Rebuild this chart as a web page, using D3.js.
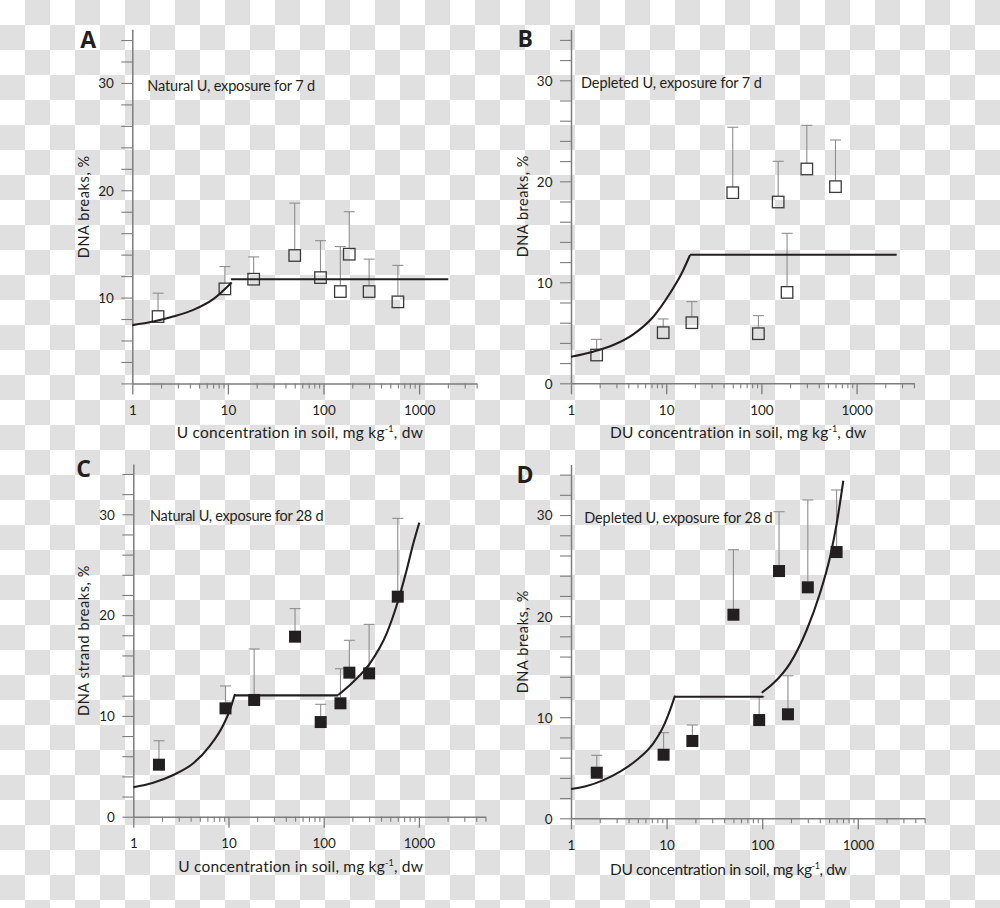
<!DOCTYPE html>
<html><head><meta charset="utf-8">
<script src="https://cdn.jsdelivr.net/npm/d3@7"></script>
<style>
html,body{margin:0;padding:0;background:#fff;}
svg{display:block;}
text{font-family:Lato,"Open Sans",sans-serif;fill:#231f20;}
</style></head><body>
<svg id="chart" width="1000" height="908"></svg>
<script>
// ---------------- DATA ----------------
const conc = [1.86, 9.3, 18.6, 50, 93, 150, 186, 300, 600];

const meanA  = [8.23, 10.81, 11.71, 13.92, 11.86, 10.56, 14.04, 10.56, 9.6];
const upperA = [10.41, 12.89, 13.79, 18.8, 15.3, 14.75, 18.0, 13.58, 13.0];

const meanB  = [2.8, 5.01, 6.0, 18.87, 4.91, 17.95, 9.0, 21.22, 19.47];
const upperB = [4.35, 6.37, 8.08, 25.35, 6.7, 21.98, 14.85, 25.54, 24.09];

const meanC  = [5.16, 10.75, 11.58, 17.86, 9.39, 11.25, 14.29, 14.22, 21.83];
const upperC = [7.54, 12.97, 16.64, 20.64, 11.15, 14.68, 17.5, 19.08, 29.6];

const meanD  = [4.51, 6.29, 7.65, 20.14, 9.72, 24.46, 10.29, 22.85, 26.34];
const upperD = [6.23, 8.47, 9.23, 26.57, 12.03, 30.33, 14.1, 31.49, 32.48];

// fitted model curves, [concentration, %]
const fitA_rise = [[1,7.43],[1.66,7.76],[2.68,8.23],[4.35,8.85],[7.03,9.85],[10.96,11.4]];
const fitA_flat = [[10.8,11.71],[2020,11.71]];

const fitB_rise = [[1,2.63],[1.71,3.13],[2.78,3.79],[4.51,4.85],[7.32,6.59],[10.96,8.91],[14.55,10.89],[17.8,12.7]];
const fitB_flat = [[17.8,12.73],[2637,12.73]];

const fitC_rise = [[1,2.92],[1.62,3.37],[2.63,4.14],[4.27,5.3],[6.4,7.05],[8.82,9.1],[10.4,10.65],[11.7,12.17]];
const fitC_flat = [[11.7,12.04],[142,12.04]];
const fitC_high = [[142,12.07],[205,13.39],[306,15.22],[459,18.19],[608,21.5],[745,24.5],[873,27.1],[1009,29.17]];

const fitD_rise = [[1,2.9],[1.46,3.19],[2.18,3.78],[3.26,4.61],[4.87,5.77],[7.26,7.42],[9.23,9.07],[10.86,10.71],[12.24,12.13]];
const fitD_flat = [[12.24,12.03],[103,12.03]];
const fitD_high = [[98.8,12.42],[130.7,13.35],[195.4,15.33],[292,18.63],[402,22.26],[513,25.88],[602,29.18],[705,33.39]];

const xTickValues = [1, 10, 100, 1000];
const xTickLabels = ["1", "10", "100", "1000"];
const yTickValues = [0, 10, 20, 30];
const yTickLabels = ["0", "10", "20", "30"];

const panelLetters = ["A", "B", "C", "D"];
const notes = ["Natural U, exposure for 7 d", "Depleted U, exposure for 7 d",
               "Natural U, exposure for 28 d", "Depleted U, exposure for 28 d"];
const xTitles = ["U concentration in soil, mg kg", "DU concentration in soil, mg kg",
                 "U concentration in soil, mg kg", "DU concentration in soil, mg kg"];
const yTitles = ["DNA breaks, %", "DNA breaks, %", "DNA strand breaks, %", "DNA breaks, %"];

// ---------------- LAYOUT ----------------
const svg = d3.select("#chart");
const defs = svg.append("defs");
const pat = defs.append("pattern").attr("id","checker").attr("patternUnits","userSpaceOnUse")
  .attr("width",50).attr("height",50);
pat.append("rect").attr("width",50).attr("height",50).attr("fill","#ffffff");
pat.append("rect").attr("x",25).attr("y",0).attr("width",25).attr("height",25).attr("fill","#e0e0e0");
pat.append("rect").attr("x",0).attr("y",25).attr("width",25).attr("height",25).attr("fill","#e0e0e0");
svg.append("rect").attr("width",1000).attr("height",908).attr("fill","url(#checker)");

const AXIS = "#7d7d7d", INK = "#231f20", ERR = "#8e8e8e";

const panels = [
  {x0:132.3, dec:95.6, xmax:4000, ymin:2, yb:383.4, yt:29.3, mean:meanA, upper:upperA, filled:false,
   fits:[fitA_rise, fitA_flat], letter:[80.3,48.3], note:[147.3,90.7,167.7],
   xt:[176.7,438.3,246.7,true], yt2:[88.5,206.7,103]},
  {x0:571, dec:95.2, xmax:4000, ymin:0, yb:383.3, yt:29.8, mean:meanB, upper:upperB, filled:false,
   fits:[fitB_rise, fitB_flat], letter:[517.6,47.3], note:[581,87.7,180.7],
   xt:[610,438.3,256.7,true], yt2:[527.5,206.2,102.3]},
  {x0:133.3, dec:95.2, xmax:5000, ymin:0, yb:816.7, yt:463.9, mean:meanC, upper:upperC, filled:true,
   fits:[fitC_rise, fitC_flat, fitC_high], letter:[76.3,477.3], note:[150,520.7,173.3],
   xt:[178.3,871.7,245,true], yt2:[89,640.5,151]},
  {x0:571, dec:95.6, xmax:5000, ymin:0, yb:818.3, yt:464.5, mean:meanD, upper:upperD, filled:true,
   fits:[fitD_rise, fitD_flat, fitD_high], letter:[516.6,483.3], note:[584.3,522.7,188.3],
   xt:[610,875,236.7,false], yt2:[527.5,641.7,103.3]}
];

function fitWidth(sel, target){
  sel.attr("letter-spacing", 0);
  const n = sel.text().length;
  const w = sel.node().getComputedTextLength();
  sel.attr("letter-spacing", ((target - w) / n).toFixed(3));
}

panels.forEach((p, k) => {
  const x = d3.scaleLog().domain([1, p.xmax]).range([p.x0, p.x0 + p.dec * Math.log10(p.xmax)]);
  const y = d3.scaleLinear().domain([p.ymin, 35]).range([p.yb, p.yt]);
  const g = svg.append("g");

  // y axis: minor ticks every 2 units
  const yAx = g.append("g").attr("transform", `translate(${p.x0},0)`)
    .call(d3.axisLeft(y).tickValues(d3.range(p.ymin, 35, 2)).tickSize(11).tickSizeOuter(0).tickFormat(""));
  yAx.select(".domain").attr("stroke", AXIS).attr("stroke-width", 1.5);
  yAx.selectAll(".tick line").attr("stroke", AXIS).attr("stroke-width", 1.1);

  const yLab = g.append("g").attr("transform", `translate(${p.x0},0)`)
    .call(d3.axisLeft(y).tickValues(yTickValues.filter(v => v >= p.ymin)).tickSize(0)
      .tickFormat(v => yTickLabels[yTickValues.indexOf(v)]));
  yLab.select(".domain").remove();
  yLab.selectAll("text").attr("x", -18.5).attr("dy", "0.36em")
    .style("font-size", "13.5px").style("font-family", "Lato,'Open Sans',sans-serif").attr("fill", INK);

  // x axis: minor and major ticks
  const minor = [];
  [1, 10, 100, 1000].forEach(d => { for (let m = 2; m <= 9; m++) if (d * m <= p.xmax) minor.push(d * m); });
  const xMin = g.append("g").attr("transform", `translate(0,${p.yb})`)
    .call(d3.axisBottom(x).tickValues(minor).tickSize(5).tickSizeOuter(0).tickFormat(""));
  xMin.select(".domain").attr("stroke", AXIS).attr("stroke-width", 1.5);
  xMin.selectAll(".tick line").attr("stroke", AXIS).attr("stroke-width", 1.1);

  const xMaj = g.append("g").attr("transform", `translate(0,${p.yb})`)
    .call(d3.axisBottom(x).tickValues(xTickValues).tickSize(11).tickSizeOuter(0)
      .tickFormat((v, i) => xTickLabels[i]));
  xMaj.select(".domain").remove();
  xMaj.selectAll(".tick line").attr("stroke", AXIS).attr("stroke-width", 1.3);
  xMaj.selectAll("text").attr("y", 31.3).attr("dy", null)
    .style("font-size", "13.5px").style("font-family", "Lato,'Open Sans',sans-serif").attr("fill", INK);

  // error bars (upper only)
  const half = p.filled ? 6 : 5.75;
  const eb = g.append("g").attr("stroke", ERR).attr("stroke-width", 1.1).attr("fill", "none");
  conc.forEach((c, i) => {
    const cx = x(c), ytop = y(p.upper[i]), ym = y(p.mean[i]) - half;
    eb.append("line").attr("x1", cx).attr("x2", cx).attr("y1", ym).attr("y2", ytop);
    eb.append("line").attr("x1", cx - 5.5).attr("x2", cx + 5.5).attr("y1", ytop).attr("y2", ytop);
  });

  // squares
  g.append("g").selectAll("rect").data(conc).join("rect")
    .attr("x", c => x(c) - half).attr("y", (c, i) => y(p.mean[i]) - half)
    .attr("width", half * 2).attr("height", half * 2)
    .attr("fill", p.filled ? INK : "none")
    .attr("stroke", p.filled ? "none" : "#3a3a3a").attr("stroke-width", 1.3);

  // fitted curves
  const line = d3.line().x(d => x(d[0])).y(d => y(d[1])).curve(d3.curveMonotoneX);
  p.fits.forEach(f => {
    g.append("path").attr("d", line(f)).attr("fill", "none").attr("stroke", INK)
      .attr("stroke-width", 2.1).attr("stroke-linecap", "butt");
  });

  // panel letter
  g.append("text").attr("x", p.letter[0]).attr("y", p.letter[1]).text(panelLetters[k])
    .style("font-size", "23px").style("font-weight", "bold")
    .style("font-family", "'Open Sans',Lato,sans-serif");

  // annotation
  const nt = g.append("text").attr("x", p.note[0]).attr("y", p.note[1]).text(notes[k])
    .style("font-size", "14.5px");
  fitWidth(nt, p.note[2]);

  // x title with superscript
  const xt = g.append("text").attr("x", p.xt[0]).attr("y", p.xt[1]).style("font-size", "15.5px");
  xt.append("tspan").text(xTitles[k]);
  xt.append("tspan").text("-1").style("font-size", "9px").attr("dy", -6);
  xt.append("tspan").text(", dw").attr("dy", 6);
  fitWidth(xt, p.xt[2]);

  // y title
  const yt = g.append("text").attr("transform", `translate(${p.yt2[0]},${p.yt2[1]}) rotate(-90)`)
    .attr("text-anchor", "middle").text(yTitles[k]).style("font-size", "14.5px");
  fitWidth(yt, p.yt2[2]);
});
</script>
</body></html>
